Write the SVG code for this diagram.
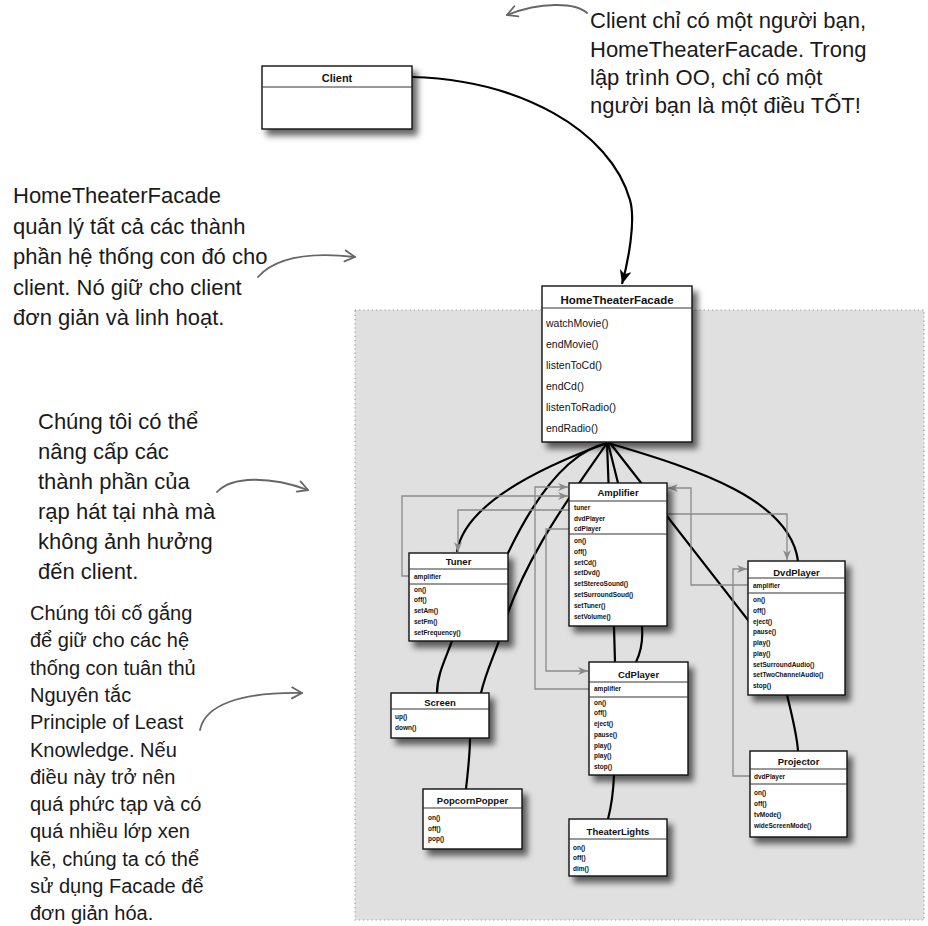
<svg xmlns="http://www.w3.org/2000/svg" width="928" height="926" viewBox="0 0 928 926">
<defs>
<style>
.box{fill:#fff;stroke:#111;stroke-width:1.4}
.sep{stroke:#333;stroke-width:1}
.t{font-family:"Liberation Sans Narrow","Liberation Sans",Arial,sans-serif;font-weight:bold;font-size:9.5px;fill:#111;text-anchor:middle}
.m{font-family:"Liberation Sans Narrow","Liberation Sans",Arial,sans-serif;font-weight:bold;font-size:6.5px;fill:#111}
.ft{font-family:"Liberation Sans",Arial,sans-serif;font-weight:bold;font-size:11.5px;fill:#111;text-anchor:middle}
.fm{font-family:"Liberation Sans",Arial,sans-serif;font-size:10.5px;fill:#111}
.ct{font-family:"Liberation Sans Narrow","Liberation Sans",Arial,sans-serif;font-weight:bold;font-size:11px;fill:#111;text-anchor:middle}
.ann{font-family:"Liberation Sans",Arial,sans-serif;font-size:22px;fill:#1a1a1a}
.ann2{font-family:"Liberation Sans",Arial,sans-serif;font-size:20px;fill:#1a1a1a}
.bk{fill:none;stroke:#000;stroke-width:2.2}
.gr{fill:none;stroke:#8a8a8a;stroke-width:1.3}
.hand{fill:none;stroke:#666;stroke-width:1.8;stroke-linecap:round}
</style>
<filter id="sh" x="-20%" y="-20%" width="150%" height="150%">
<feDropShadow dx="5" dy="6" stdDeviation="3" flood-color="#000" flood-opacity="0.6"/>
</filter>
<marker id="ga" markerUnits="userSpaceOnUse" viewBox="0 0 10 8" refX="10" refY="4" markerWidth="10" markerHeight="8" orient="auto">
<path d="M0,0 L10,4 L0,8 L3,4 Z" fill="#8a8a8a"/>
</marker>
<marker id="ba" markerUnits="userSpaceOnUse" viewBox="0 0 14 12" refX="14" refY="6" markerWidth="14" markerHeight="12" orient="auto">
<path d="M0,0 L14,6 L0,12 L4,6 Z" fill="#000"/>
</marker>
<marker id="ha" markerUnits="userSpaceOnUse" viewBox="0 0 14 14" refX="12" refY="7" markerWidth="14" markerHeight="14" orient="auto">
<path d="M2,1.5 L12,7 L2,12.5" fill="none" stroke="#666" stroke-width="1.8" stroke-linecap="round" stroke-linejoin="round"/>
</marker>
</defs>

<rect x="355" y="310" width="569" height="610" fill="#e0e0e0" stroke="#999" stroke-width="1.2" stroke-dasharray="1.2,3"/>

<g id="annotations">
<text class="ann" x="590" y="28">Client chỉ có một người bạn,</text>
<text class="ann" x="590" y="56.5">HomeTheaterFacade. Trong</text>
<text class="ann" x="590" y="85">lập trình OO, chỉ có một</text>
<text class="ann" x="590" y="113">người bạn là một điều TỐT!</text>
<path class="hand" d="M587,13 C575,2 540,2 507,15" marker-end="url(#ha)"/>

<text class="ann" x="13" y="203">HomeTheaterFacade</text>
<text class="ann" x="13" y="233.5">quản lý tất cả các thành</text>
<text class="ann" x="13" y="264">phần hệ thống con đó cho</text>
<text class="ann" x="13" y="294.5">client. Nó giữ cho client</text>
<text class="ann" x="13" y="325">đơn giản và linh hoạt.</text>
<path class="hand" d="M258,277 C275,258 310,252 355,257" marker-end="url(#ha)"/>

<text class="ann" x="38" y="429">Chúng tôi có thể</text>
<text class="ann" x="38" y="459">nâng cấp các</text>
<text class="ann" x="38" y="489">thành phần của</text>
<text class="ann" x="38" y="519">rạp hát tại nhà mà</text>
<text class="ann" x="38" y="549">không ảnh hưởng</text>
<text class="ann" x="38" y="579">đến client.</text>
<path class="hand" d="M217,492 C232,476 270,476 308,490" marker-end="url(#ha)"/>

<text class="ann2" x="30" y="620">Chúng tôi cố gắng</text>
<text class="ann2" x="30" y="647.3">để giữ cho các hệ</text>
<text class="ann2" x="30" y="674.6">thống con tuân thủ</text>
<text class="ann2" x="30" y="701.9">Nguyên tắc</text>
<text class="ann2" x="30" y="729.2">Principle of Least</text>
<text class="ann2" x="30" y="756.5">Knowledge. Nếu</text>
<text class="ann2" x="30" y="783.8">điều này trở nên</text>
<text class="ann2" x="30" y="811.1">quá phức tạp và có</text>
<text class="ann2" x="30" y="838.4">quá nhiều lớp xen</text>
<text class="ann2" x="30" y="865.7">kẽ, chúng ta có thể</text>
<text class="ann2" x="30" y="893">sử dụng Facade để</text>
<text class="ann2" x="30" y="920.3">đơn giản hóa.</text>
<path class="hand" d="M200,730 C205,705 240,692 302,693" marker-end="url(#ha)"/>
</g>

<g id="connectors">
<path class="bk" d="M412,77 C520,80 610,130 630,200 C636,221 628,262 622,284" stroke-width="1.8" marker-end="url(#ba)"/>
<path class="bk" d="M607,443 C555,462 465,500 457,552"/>
<path class="bk" d="M607,443 Q555,455 508,553 L480,597 Q455,620 452,641 C445,660 437,675 437,693 L470,738 C470,755 468,770 466,789"/>
<path class="bk" d="M607,443 C580,483 520,560 499,641 C492,660 485,675 481,693"/>
<path class="bk" d="M607,443 L614,627 L615,662 L614,775 Q613,800 608,819"/>
<path class="bk" d="M608,443 L618,483 L642,627 C643,640 641,652 636,662"/>
<path class="bk" d="M610,443 L748,620 L787,695 C792,715 797,735 798,751"/>
<path class="bk" d="M608,443 C700,470 790,500 798,561"/>
<path class="gr" d="M409,576 H402 V496 H568" marker-end="url(#ga)"/>
<path class="gr" d="M589,689 H535 V487 H568" marker-end="url(#ga)"/>
<path class="gr" d="M569,510 H458 V552" marker-end="url(#ga)"/>
<path class="gr" d="M569,529 H546 V671 H588" marker-end="url(#ga)"/>
<path class="gr" d="M667,514 H787 V560" marker-end="url(#ga)"/>
<path class="gr" d="M748,585 H691 V488 H668" marker-end="url(#ga)"/>
<path class="gr" d="M750,776 H733 V569 H747" marker-end="url(#ga)"/>
</g>

<g id="client">
<rect class="box" x="262" y="66" width="150" height="63" filter="url(#sh)"/>
<line class="sep" x1="262" y1="87" x2="412" y2="87"/>
<text class="ct" x="337" y="81.5">Client</text>
</g>

<g id="facade">
<rect class="box" x="542" y="286" width="150" height="156" filter="url(#sh)"/>
<line class="sep" x1="542" y1="308" x2="692" y2="308"/>
<text class="ft" x="617" y="303.5">HomeTheaterFacade</text>
<text class="fm" x="546" y="327">watchMovie()</text>
<text class="fm" x="546" y="348">endMovie()</text>
<text class="fm" x="546" y="369">listenToCd()</text>
<text class="fm" x="546" y="390">endCd()</text>
<text class="fm" x="546" y="411">listenToRadio()</text>
<text class="fm" x="546" y="431.5">endRadio()</text>
</g>

<g id="amplifier">
<rect class="box" x="569" y="483" width="98" height="143" filter="url(#sh)"/>
<line class="sep" x1="569" y1="501" x2="667" y2="501"/>
<line class="sep" x1="569" y1="534" x2="667" y2="534"/>
<text class="t" x="618" y="496">Amplifier</text>
<text class="m" x="574" y="509.5">tuner</text>
<text class="m" x="574" y="520.5">dvdPlayer</text>
<text class="m" x="574" y="531">cdPlayer</text>
<text class="m" x="574" y="543">on()</text>
<text class="m" x="574" y="553.8">off()</text>
<text class="m" x="574" y="564.6">setCd()</text>
<text class="m" x="574" y="575.4">setDvd()</text>
<text class="m" x="574" y="586.2">setStereoSound()</text>
<text class="m" x="574" y="597">setSurroundSoud()</text>
<text class="m" x="574" y="607.8">setTuner()</text>
<text class="m" x="574" y="618.6">setVolume()</text>
</g>

<g id="tuner">
<rect class="box" x="409" y="553" width="99" height="88" filter="url(#sh)"/>
<line class="sep" x1="409" y1="569" x2="508" y2="569"/>
<line class="sep" x1="409" y1="584" x2="508" y2="584"/>
<text class="t" x="458.5" y="565">Tuner</text>
<text class="m" x="414" y="578.5">amplifier</text>
<text class="m" x="414" y="591.5">on()</text>
<text class="m" x="414" y="602.2">off()</text>
<text class="m" x="414" y="613">setAm()</text>
<text class="m" x="414" y="623.7">setFm()</text>
<text class="m" x="414" y="634.5">setFrequency()</text>
</g>

<g id="dvdplayer">
<rect class="box" x="748" y="561" width="97" height="134" filter="url(#sh)"/>
<line class="sep" x1="748" y1="578" x2="845" y2="578"/>
<line class="sep" x1="748" y1="593" x2="845" y2="593"/>
<text class="t" x="796.5" y="576">DvdPlayer</text>
<text class="m" x="753" y="587.5">amplifier</text>
<text class="m" x="753" y="602">on()</text>
<text class="m" x="753" y="612.75">off()</text>
<text class="m" x="753" y="623.5">eject()</text>
<text class="m" x="753" y="634.25">pause()</text>
<text class="m" x="753" y="645">play()</text>
<text class="m" x="753" y="655.75">play()</text>
<text class="m" x="753" y="666.5">setSurroundAudio()</text>
<text class="m" x="753" y="677.25">setTwoChannelAudio()</text>
<text class="m" x="753" y="688">stop()</text>
</g>

<g id="cdplayer">
<rect class="box" x="589" y="662" width="99" height="113" filter="url(#sh)"/>
<line class="sep" x1="589" y1="682" x2="688" y2="682"/>
<line class="sep" x1="589" y1="697" x2="688" y2="697"/>
<text class="t" x="638.5" y="677.5">CdPlayer</text>
<text class="m" x="594" y="691">amplifier</text>
<text class="m" x="594" y="704.5">on()</text>
<text class="m" x="594" y="715.25">off()</text>
<text class="m" x="594" y="726">eject()</text>
<text class="m" x="594" y="736.75">pause()</text>
<text class="m" x="594" y="747.5">play()</text>
<text class="m" x="594" y="758.25">play()</text>
<text class="m" x="594" y="769">stop()</text>
</g>

<g id="screen">
<rect class="box" x="391" y="693" width="98" height="45" filter="url(#sh)"/>
<line class="sep" x1="391" y1="709" x2="489" y2="709"/>
<text class="t" x="440" y="705.5">Screen</text>
<text class="m" x="395" y="718.5">up()</text>
<text class="m" x="395" y="729.5">down()</text>
</g>

<g id="popcornpopper">
<rect class="box" x="423" y="789" width="99" height="60" filter="url(#sh)"/>
<line class="sep" x1="423" y1="808" x2="522" y2="808"/>
<text class="t" x="472.5" y="804">PopcornPopper</text>
<text class="m" x="428" y="819.5">on()</text>
<text class="m" x="428" y="830.5">off()</text>
<text class="m" x="428" y="841">pop()</text>
</g>

<g id="theaterlights">
<rect class="box" x="569" y="819" width="98" height="57" filter="url(#sh)"/>
<line class="sep" x1="569" y1="839" x2="667" y2="839"/>
<text class="t" x="618" y="835">TheaterLights</text>
<text class="m" x="573" y="849.5">on()</text>
<text class="m" x="573" y="860">off()</text>
<text class="m" x="573" y="870.5">dim()</text>
</g>

<g id="projector">
<rect class="box" x="750" y="751" width="97" height="86" filter="url(#sh)"/>
<line class="sep" x1="750" y1="769" x2="847" y2="769"/>
<line class="sep" x1="750" y1="784" x2="847" y2="784"/>
<text class="t" x="798.5" y="765">Projector</text>
<text class="m" x="754" y="778.5">dvdPlayer</text>
<text class="m" x="754" y="795">on()</text>
<text class="m" x="754" y="806">off()</text>
<text class="m" x="754" y="817">tvMode()</text>
<text class="m" x="754" y="828">wideScreenMode()</text>
</g>
</svg>
